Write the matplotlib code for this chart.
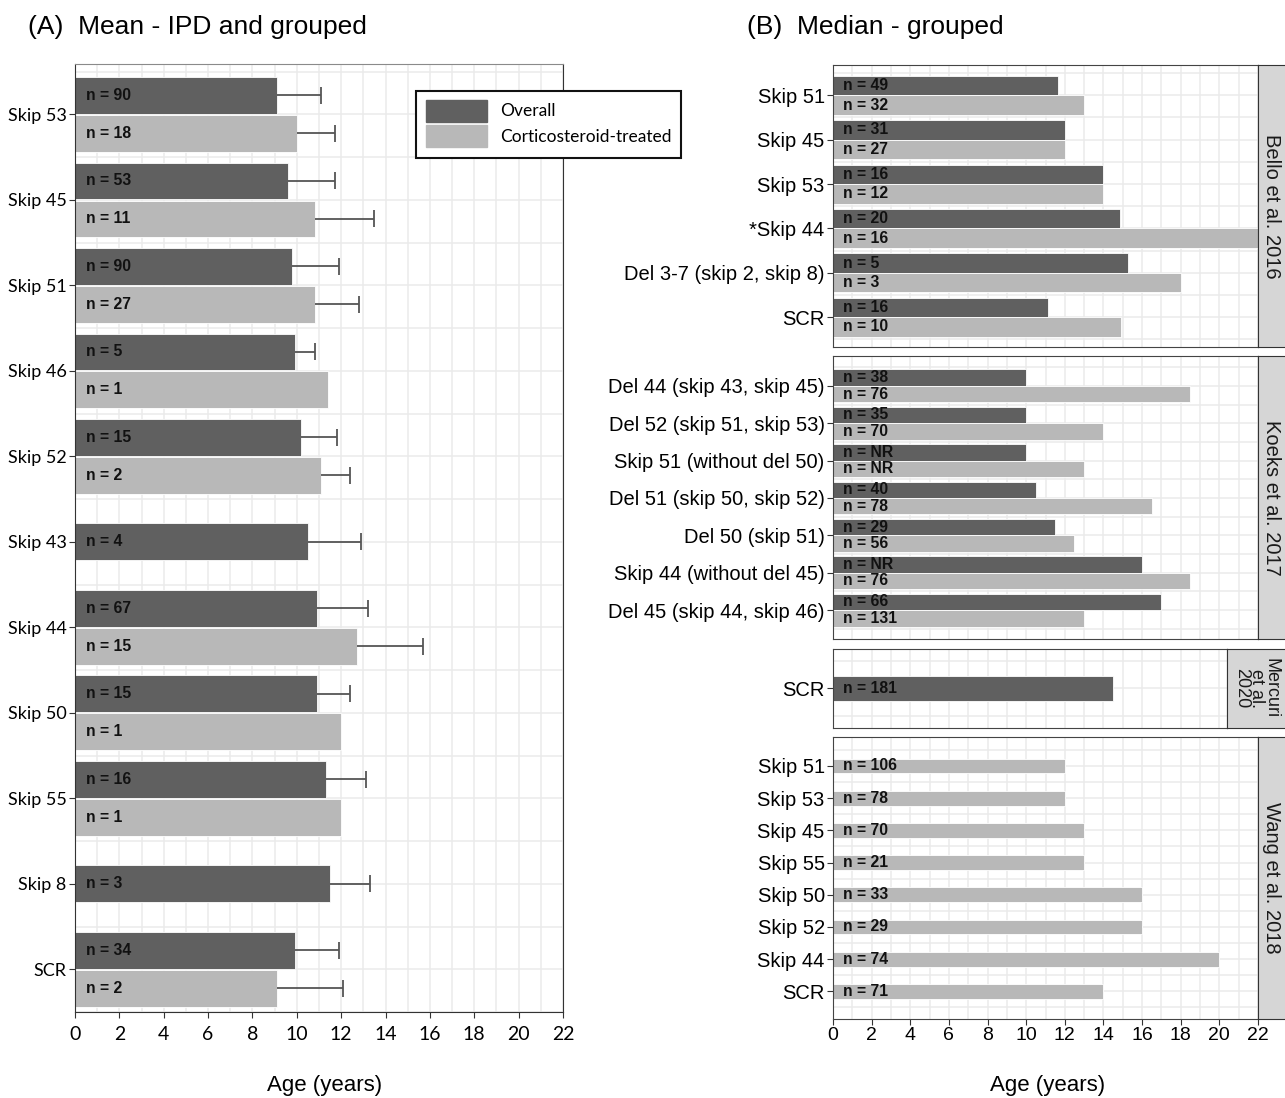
import numpy as np
import matplotlib.pyplot as plt
from matplotlib.patches import Rectangle

W, H = 1285, 1098
DARK = '#606060'
LIGHT = '#b8b8b8'
GRID = '#ebebeb'
ARIAL = ['Liberation Sans', 'DejaVu Sans']
CALIBRI = ['Lato', 'DejaVu Sans']

# (A) mean - IPD and grouped
a_groups = ['Skip 53', 'Skip 45', 'Skip 51', 'Skip 46', 'Skip 52', 'Skip 43',
            'Skip 44', 'Skip 50', 'Skip 55', 'Skip 8', 'SCR']
a_overall = [9.1, 9.6, 9.8, 9.9, 10.2, 10.5, 10.9, 10.9, 11.3, 11.5, 9.9]
a_overall_upper = [11.1, 11.7, 11.9, 10.8, 11.8, 12.9, 13.2, 12.4, 13.1, 13.3, 11.9]
a_overall_n = [90, 53, 90, 5, 15, 4, 67, 15, 16, 3, 34]
a_cs = [10.0, 10.8, 10.8, 11.4, 11.1, None, 12.7, 12.0, 12.0, None, 9.1]
a_cs_upper = [11.7, 13.5, 12.8, None, 12.4, None, 15.7, None, None, None, 12.1]
a_cs_n = [18, 11, 27, 1, 2, None, 15, 1, 1, None, 2]

# (B) median - grouped
bello_groups = ['Skip 51', 'Skip 45', 'Skip 53', '*Skip 44',
                'Del 3-7 (skip 2, skip 8)', 'SCR']
bello_overall = [11.65, 12.0, 14.0, 14.85, 15.25, 11.15]
bello_overall_n = ['49', '31', '16', '20', '5', '16']
bello_cs = [13.0, 12.0, 14.0, 22.0, 18.0, 14.9]
bello_cs_n = ['32', '27', '12', '16', '3', '10']

koeks_groups = ['Del 44 (skip 43, skip 45)', 'Del 52 (skip 51, skip 53)',
                'Skip 51 (without del 50)', 'Del 51 (skip 50, skip 52)',
                'Del 50 (skip 51)', 'Skip 44 (without del 45)',
                'Del 45 (skip 44, skip 46)']
koeks_overall = [10.0, 10.0, 10.0, 10.5, 11.5, 16.0, 17.0]
koeks_overall_n = ['38', '35', 'NR', '40', '29', 'NR', '66']
koeks_cs = [18.5, 14.0, 13.0, 16.5, 12.5, 18.5, 13.0]
koeks_cs_n = ['76', '70', 'NR', '78', '56', '76', '131']

mercuri_groups = ['SCR']
mercuri_overall = [14.5]
mercuri_overall_n = ['181']

wang_groups = ['Skip 51', 'Skip 53', 'Skip 45', 'Skip 55', 'Skip 50',
               'Skip 52', 'Skip 44', 'SCR']
wang_cs = [12.0, 12.0, 13.0, 13.0, 16.0, 16.0, 20.0, 14.0]
wang_cs_n = ['106', '78', '70', '21', '33', '29', '74', '71']


def px_axes(fig, x0, y0, x1, y1):
    return fig.add_axes([x0 / W, 1 - y1 / H, (x1 - x0) / W, (y1 - y0) / H])


def positions(overall, cs, off):
    n = len(overall) if overall is not None else len(cs)
    yo, yc = [], []
    for i in range(n):
        o = overall[i] if overall is not None else None
        c = cs[i] if cs is not None else None
        if o is not None and c is not None:
            yo.append(i - off)
            yc.append(i + off)
        else:
            yo.append(i)
            yc.append(i)
    return yo, yc


def draw_bars(ax, overall, o_n, cs, c_n, off, h, h1, fs):
    n = len(overall) if overall is not None else len(cs)
    yo, yc = positions(overall, cs, off)
    for vals, labs, ys, col in [(overall, o_n, yo, DARK), (cs, c_n, yc, LIGHT)]:
        if vals is None:
            continue
        for i in range(n):
            if vals[i] is None:
                continue
            both = overall is not None and cs is not None and \
                overall[i] is not None and cs[i] is not None
            ax.barh(ys[i], vals[i], height=h if both else h1, color=col,
                    edgecolor='white', linewidth=0.6, zorder=2)
            ax.text(0.5, ys[i], 'n = %s' % labs[i], fontsize=fs,
                    fontweight='bold', va='center', ha='left',
                    family=ARIAL, color='#111111', zorder=3)
    return yo, yc


def main():
    fig = plt.figure(figsize=(W / 100, H / 100), dpi=100)

    # ---------------- panel A ----------------
    ax = px_axes(fig, 75, 64, 563, 1012)
    yo, yc = draw_bars(ax, a_overall, a_overall_n, a_cs, a_cs_n,
                       0.222, 0.43, 0.43, 11.3)
    for vals, ups, ys in [(a_overall, a_overall_upper, yo), (a_cs, a_cs_upper, yc)]:
        for i in range(len(vals)):
            if vals[i] is None or ups[i] is None:
                continue
            ax.hlines(ys[i], vals[i], ups[i], color='#555555', lw=1.3, zorder=3)
            ax.vlines(ups[i], ys[i] - 0.1, ys[i] + 0.1, color='#555555',
                      lw=1.3, zorder=3)
    ax.set_xticks(np.arange(0, 23, 2))
    ax.set_xticks(np.arange(0, 23, 1), minor=True)
    ax.set_yticks(range(len(a_groups)))
    ax.set_yticks(np.arange(-0.5, len(a_groups), 1), minor=True)
    ax.set_xlim(0, 22)
    ax.set_ylim(len(a_groups) - 0.5, -0.59)
    ax.set_yticklabels(a_groups, family=CALIBRI, fontsize=13)
    ax.set_xticklabels([str(v) for v in range(0, 23, 2)], family=CALIBRI,
                       fontsize=14)
    ax.grid(which='both', color=GRID, lw=1.1)
    ax.set_axisbelow(True)
    ax.tick_params(which='major', length=4, color='#333333', pad=2)
    ax.tick_params(axis='x', which='major', pad=6)
    ax.tick_params(which='minor', length=0)
    for s in ['left', 'bottom', 'right']:
        ax.spines[s].set_color('#333333')
    ax.spines['top'].set_color('#8a8a8a')

    # legend (drawn in figure pixels)
    fig.patches.append(Rectangle((416 / W, 1 - 158 / H), 265 / W, 67 / H,
                                 transform=fig.transFigure, fill=True,
                                 facecolor='white', edgecolor='#111111',
                                 lw=1.5, zorder=5))
    fig.patches.append(Rectangle((426 / W, 1 - 122 / H), 61 / W, 22 / H,
                                 transform=fig.transFigure, color=DARK, zorder=6))
    fig.patches.append(Rectangle((426 / W, 1 - 147 / H), 61 / W, 22 / H,
                                 transform=fig.transFigure, color=LIGHT, zorder=6))
    fig.text(500 / W, 1 - 111 / H, 'Overall', family=CALIBRI, fontsize=12.5,
             va='center', zorder=7)
    fig.text(500 / W, 1 - 137 / H, 'Corticosteroid-treated', family=CALIBRI,
             fontsize=12.5, va='center', zorder=7)

    fig.text(28 / W, 1 - 27 / H, '(A)  Mean - IPD and grouped', family=ARIAL,
             fontsize=19, va='center')
    fig.text(747 / W, 1 - 27 / H, '(B)  Median - grouped', family=ARIAL,
             fontsize=19, va='center')
    fig.text(325 / W, 1 - 1085 / H, 'Age (years)', family=ARIAL, fontsize=16,
             va='center', ha='center')
    fig.text(1048 / W, 1 - 1085 / H, 'Age (years)', family=ARIAL, fontsize=16,
             va='center', ha='center')

    # ---------------- panel B ----------------
    facets = [
        (bello_groups, bello_overall, bello_overall_n, bello_cs, bello_cs_n,
         (64.7, 347.3), (-0.69, 0.68), 1258, 'Bello et al. 2016'),
        (koeks_groups, koeks_overall, koeks_overall_n, koeks_cs, koeks_cs_n,
         (356.3, 639.3), (-0.79, 0.78), 1258, 'Koeks et al. 2017'),
        (mercuri_groups, mercuri_overall, mercuri_overall_n, None, None,
         (649, 727.7), (-0.71, 0.71), 1227, 'Mercuri\net al.\n2020'),
        (wang_groups, None, None, wang_cs, wang_cs_n,
         (736.7, 1019), (-0.91, 0.86), 1258, 'Wang et al. 2018'),
    ]
    for k, (groups, ov, ov_n, cs, cs_n, (top, bot), (p0, p1), right, strip) in enumerate(facets):
        bx = px_axes(fig, 833, top, right, bot)
        draw_bars(bx, ov, ov_n, cs, cs_n, 0.22, 0.44, 0.46, 11.3)
        bx.set_xticks(np.arange(0, 23, 2))
        bx.set_xticks(np.arange(0, 23, 1), minor=True)
        bx.set_yticks(range(len(groups)))
        bx.set_yticks(np.arange(-0.5, len(groups), 1), minor=True)
        xmax = (right - 833) / (425 / 22)
        bx.set_xlim(0, xmax)
        bx.set_ylim(len(groups) - 1 + p1, p0)
        bx.set_yticklabels(groups, family=ARIAL, fontsize=14.5)
        bx.grid(which='both', color=GRID, lw=1.1)
        bx.set_axisbelow(True)
        bx.tick_params(which='major', length=4, color='#333333', pad=2)
        bx.tick_params(which='minor', length=0)
        last = k == len(facets) - 1
        if last:
            bx.set_xticklabels([str(v) for v in range(0, 23, 2)], family=ARIAL,
                               fontsize=14)
        else:
            bx.tick_params(axis='x', which='major', length=0, labelbottom=False)
        for s in bx.spines.values():
            s.set_color('#444444')
        sx = px_axes(fig, right, top, 1295, bot)
        sx.set_facecolor('#d6d6d6')
        sx.set_xticks([])
        sx.set_yticks([])
        for s in sx.spines.values():
            s.set_color('#333333')
        multi = '\n' in strip
        cx = 1256 if multi else 1272
        fig.text(cx / W, 1 - (top + bot) / 2 / H, strip, family=ARIAL,
                 fontsize=13 if multi else 14.5, rotation=270,
                 ha='center', va='center', ma='center',
                 linespacing=0.82 if multi else 1.2, color='#1a1a1a')

    fig.savefig('out.png', dpi=100)


if __name__ == '__main__':
    main()
